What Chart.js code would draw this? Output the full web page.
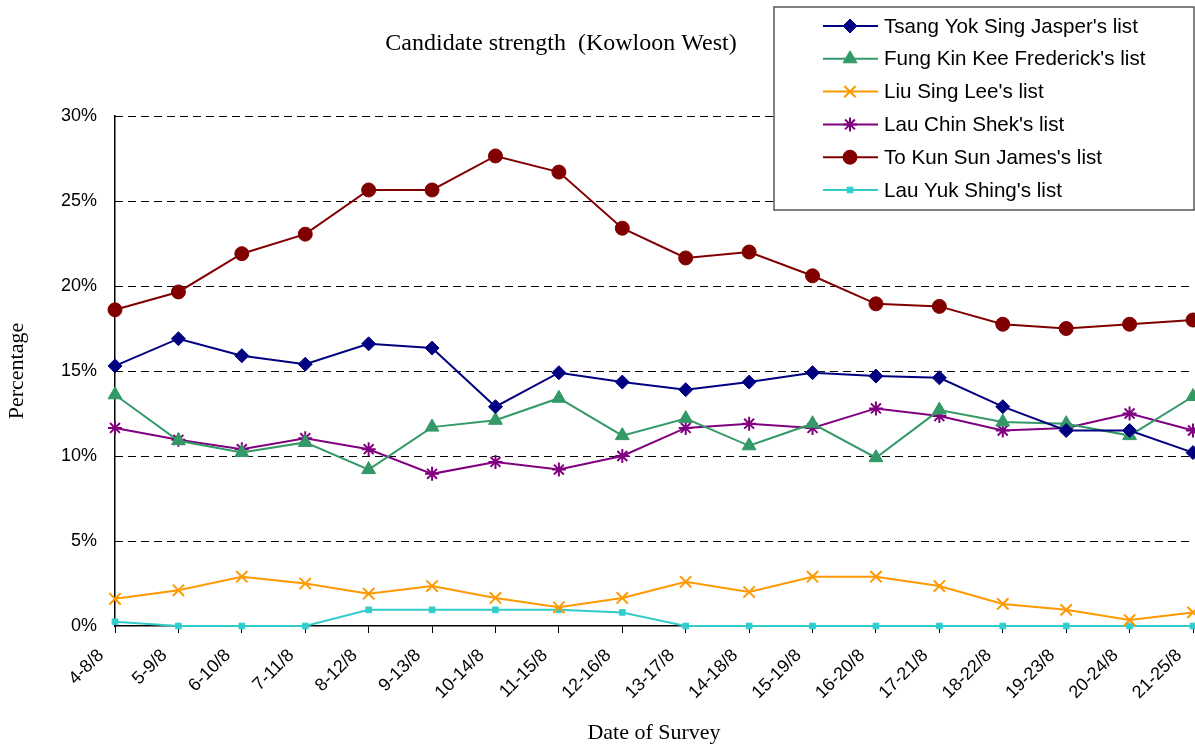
<!DOCTYPE html>
<html>
<head>
<meta charset="utf-8">
<script src="https://cdn.jsdelivr.net/npm/chart.js@4/dist/chart.umd.min.js"></script>
<style>
  html, body { margin: 0; padding: 0; background: #fff; }
  #wrap { width: 1195px; height: 749px; position: relative; }
</style>
</head>
<body>
<div id="wrap"><canvas id="chart"></canvas></div>
<script>
const dates = ['4-8/8', '5-9/8', '6-10/8', '7-11/8', '8-12/8', '9-13/8', '10-14/8', '11-15/8', '12-16/8',
  '13-17/8', '14-18/8', '15-19/8', '16-20/8', '17-21/8', '18-22/8', '19-23/8', '20-24/8', '21-25/8'];

const tsang = [15.3, 16.9, 15.9, 15.4, 16.6, 16.35, 12.9, 14.9, 14.35, 13.9, 14.35, 14.9, 14.7, 14.6, 12.9, 11.5, 11.5, 10.2];
const fung = [13.6, 10.9, 10.2, 10.8, 9.2, 11.7, 12.1, 13.4, 11.2, 12.2, 10.6, 11.9, 9.9, 12.7, 12.0, 11.9, 11.2, 13.5];
const liu = [1.6, 2.1, 2.9, 2.5, 1.9, 2.35, 1.65, 1.1, 1.65, 2.6, 2.0, 2.9, 2.9, 2.35, 1.3, 0.95, 0.35, 0.8];
const lauChinShek = [11.65, 10.95, 10.4, 11.05, 10.4, 8.95, 9.65, 9.2, 10.0, 11.65, 11.9, 11.65, 12.8, 12.35, 11.5, 11.65, 12.5, 11.5];
const toKunSun = [18.6, 19.65, 21.9, 23.05, 25.65, 25.65, 27.65, 26.7, 23.4, 21.65, 22.0, 20.6, 18.95, 18.8, 17.75, 17.5, 17.75, 18.0];
const lauYukShing = [0.25, 0, 0, 0, 0.95, 0.95, 0.95, 0.95, 0.8, 0, 0, 0, 0, 0, 0, 0, 0, 0];

const yTicks = [0, 5, 10, 15, 20, 25, 30];

function series(label, data, color, style, radius) {
  return {
    label: label,
    data: data,
    borderColor: color,
    backgroundColor: color,
    borderWidth: 2,
    pointStyle: style,
    pointRadius: radius,
    pointBorderWidth: style === 'crossRot' || style === 'star' ? 2 : 1,
    tension: 0,
    fill: false,
    clip: false
  };
}

// legend box in the top right corner, drawn by hand
const boxLegend = {
  id: 'boxLegend',
  afterDraw(chart) {
    const ctx = chart.ctx;
    const x = 774, y = 7, w = 420, h = 203;
    ctx.save();
    ctx.fillStyle = '#fff';
    ctx.fillRect(x, y, w, h);
    ctx.strokeStyle = '#555';
    ctx.lineWidth = 1.5;
    ctx.strokeRect(x, y, w, h);
    ctx.font = '20.6px "Liberation Sans", Arial, sans-serif';
    ctx.textBaseline = 'middle';
    chart.data.datasets.forEach((ds, i) => {
      const cy = 26 + i * 32.8;
      ctx.strokeStyle = ds.borderColor;
      ctx.lineWidth = 2;
      ctx.beginPath();
      ctx.moveTo(823, cy);
      ctx.lineTo(878, cy);
      ctx.stroke();
      ctx.fillStyle = ds.backgroundColor;
      ctx.lineWidth = ds.pointBorderWidth;
      Chart.helpers.drawPoint(ctx, {
        pointStyle: ds.pointStyle,
        radius: ds.pointRadius,
        rotation: 0,
        borderWidth: ds.pointBorderWidth
      }, 850, cy);
      ctx.fillStyle = '#000';
      ctx.fillText(ds.label, 884, cy + 1);
    });
    ctx.restore();
  }
};

const chartTitle = {
  id: 'chartTitle',
  afterDraw(chart) {
    const ctx = chart.ctx;
    ctx.save();
    ctx.font = '24px "Liberation Serif", "Times New Roman", serif';
    ctx.fillStyle = '#000';
    ctx.textAlign = 'center';
    ctx.textBaseline = 'middle';
    ctx.fillText('Candidate strength  (Kowloon West)', 561, 44);
    ctx.restore();
  }
};

const tickFont = { family: '"Liberation Sans", Arial, sans-serif', size: 18 };
const serifFont = { family: '"Liberation Serif", "Times New Roman", serif', size: 22 };

new Chart(document.getElementById('chart'), {
  type: 'line',
  data: {
    labels: dates,
    datasets: [
      series("Tsang Yok Sing Jasper's list", tsang, '#000080', 'rectRot', 7),
      series("Fung Kin Kee Frederick's list", fung, '#339966', 'triangle', 8),
      series("Liu Sing Lee's list", liu, '#FF9900', 'crossRot', 8),
      series("Lau Chin Shek's list", lauChinShek, '#800080', 'star', 7),
      series("To Kun Sun James's list", toKunSun, '#800000', 'circle', 7),
      series("Lau Yuk Shing's list", lauYukShing, '#33CCCC', 'rect', 4)
    ]
  },
  options: {
    responsive: true,
    maintainAspectRatio: false,
    animation: false,
    layout: { autoPadding: false, padding: { top: 116, right: 2, left: 0, bottom: 0 } },
    plugins: {
      legend: { display: false },
      title: { display: false },
      tooltip: { enabled: false }
    },
    scales: {
      x: {
        offset: false,
        grid: { display: true, drawOnChartArea: false, tickLength: 7, color: '#000', lineWidth: 1 },
        border: { display: true, color: '#000', width: 1.5 },
        ticks: { font: tickFont, color: '#000', minRotation: 45, maxRotation: 45, autoSkip: false, padding: 12, labelOffset: -14 },
        title: { display: true, text: 'Date of Survey', font: serifFont, color: '#000', padding: { top: 0, bottom: 3 } },
        afterFit(scale) {
          scale.height = 123;
          scale.paddingLeft = 0;
          scale.paddingRight = 0;
        }
      },
      y: {
        min: 0,
        max: 30,
        afterBuildTicks(scale) {
          scale.ticks = yTicks.map(v => ({ value: v }));
        },
        grid: { display: false, drawTicks: false },
        border: { display: true, color: '#000', width: 1.5 },
        ticks: { font: tickFont, color: '#000', padding: 18, callback: v => v + '%' },
        title: { display: true, text: 'Percentage', font: serifFont, color: '#000', padding: { top: 4, bottom: 0 } },
        afterFit(scale) {
          scale.width = 115;
          scale.paddingTop = 0;
          scale.paddingBottom = 0;
        }
      }
    }
  },
  plugins: [chartTitle, boxLegend, {
    id: 'dashedGrid',
    beforeDatasetsDraw(chart) {
      // horizontal dashed lines at every y tick
      const ctx = chart.ctx, y = chart.scales.y, a = chart.chartArea;
      ctx.save();
      ctx.strokeStyle = '#000';
      ctx.lineWidth = 1;
      ctx.setLineDash([8, 5]);
      yTicks.forEach(v => {
        if (v === 0) return;
        const py = Math.round(y.getPixelForValue(v)) + 0.5;
        ctx.beginPath();
        ctx.moveTo(a.left, py);
        ctx.lineTo(a.right, py);
        ctx.stroke();
      });
      ctx.restore();
    }
  }]
});
</script>
</body>
</html>
